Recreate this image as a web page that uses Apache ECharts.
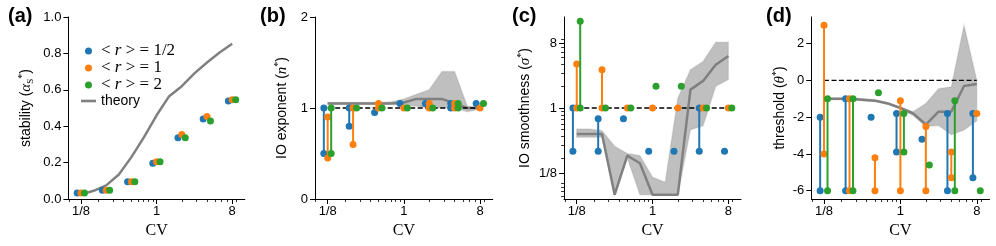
<!DOCTYPE html>
<html><head><meta charset="utf-8">
<script src="https://cdn.jsdelivr.net/npm/echarts@6/dist/echarts.min.js"></script>
<style>html,body{margin:0;padding:0;background:#fff}#c{width:996px;height:246px}</style>
</head><body><div id="c"></div>
<script>
// ---------- data ----------
const CV = [0.125, 0.25, 0.5, 1, 2, 4, 8];
const GROUPS = ['<r>=1/2', '<r>=1', '<r>=2'];
const X_TICK_CV = [0.125, 1, 8];
const X_TICK_LABELS = ['1/8', '1', '8'];
const MINOR_TICKS = [0.06,0.07,0.08,0.09,0.2,0.3,0.4,0.5,0.6,0.7,0.8,0.9,2,3,4,5,6,7,8,9];

// (a) stability
const STAB_HALF = [0.033, 0.048, 0.095, 0.196, 0.337, 0.439, 0.539];
const STAB_ONE  = [0.033, 0.048, 0.095, 0.204, 0.354, 0.453, 0.546];
const STAB_TWO  = [0.033, 0.048, 0.095, 0.204, 0.337, 0.429, 0.546];
const THEORY_CV = [0.125, 0.177, 0.25, 0.354, 0.5, 0.707, 1, 1.414, 2, 2.828, 4, 5.657, 8];
const STAB_THEORY = [0.025, 0.045, 0.075, 0.135, 0.23, 0.34, 0.46, 0.565, 0.62, 0.69, 0.75, 0.805, 0.853];

// (b) IO exponent: [low, high] per CV
const N_HALF = [[0.5,1.0],[0.8,1.0],[0.95,0.95],[1.05,1.05],[1.05,1.05],[1.0,1.05],[1.05,1.05]];
const N_ONE  = [[0.45,0.9],[0.6,1.0],[1.0,1.05],[1.0,1.0],[1.0,1.05],[1.0,1.05],[1.0,1.0]];
const N_TWO  = [[0.5,1.0],[1.0,1.0],[1.0,1.0],[1.0,1.0],[1.0,1.0],[1.0,1.05],[1.05,1.05]];
const N_THEORY = [1.05,1.05,1.05,1.05,1.05,1.05,1.06,1.1,1.1,1.1,1.05,1.0,1.0];
const N_UPPER  = [1.06,1.06,1.06,1.06,1.06,1.07,1.1,1.15,1.2,1.4,1.4,1.02,1.0];
const N_LOWER  = [1.04,1.04,1.04,1.04,1.04,1.04,1.03,1.02,1.0,1.0,1.0,0.96,0.99];

// (c) IO smoothness
const S_HALF = [[0.25,1],[0.25,0.71],[0.71,0.71],[0.25,0.25],[0.25,0.25],[0.25,1],[0.25,0.25]];
const S_ONE  = [[1,4.1],[1,3.4],[1,1],[1,1],[1,1],[1,1],[1,1]];
const S_TWO  = [[1,16],[1,1],[1,1],[2,2],[2,2],[1,1],[1,1]];
const S_THEORY = [0.435,0.435,0.435,0.0625,0.218,0.171,0.0625,0.0625,0.0625,1.8,2.38,4.0,5.28];
const S_UPPER  = [0.51,0.51,0.483,0.293,0.233,0.218,0.109,0.093,1.37,3.41,4.44,8.17,8.17];
const S_LOWER  = [0.392,0.392,0.392,0.0625,0.203,0.0625,0.0625,0.0625,0.0625,0.5,0.566,2.0,2.48];
const C_TICK_VALUES = [0.125, 1, 8];
const C_TICK_LABELS = ['1/8', '1', '8'];

// (d) threshold
const T_HALF = [[-6,-2],[-6,-1],[-2,-2],[-3.9,-1.8],[-3.2,-3.2],[-6,-1.8],[-5.3,-1.8]];
const T_ONE  = [[-4,3],[-6,-1],[-6,-4.2],[-6,-1.1],[-6,-2.5],[-5.3,-3.9],[-1.8,-1.8]];
const T_TWO  = [[-6,-1],[-6,-1],[-0.67,-0.67],[-3.9,-1.8],[-4.6,-4.6],[-6,-1.1],[-6,-6]];
const T_THEORY = [-1.0,-1.0,-1.0,-1.05,-1.1,-1.25,-1.5,-1.8,-2.4,-1.7,-1.7,-0.3,-0.2];
const T_UPPER  = [-0.95,-0.95,-0.95,-1.0,-1.05,-1.2,-1.45,-1.7,-1.25,-0.45,-0.35,3.0,0.0];
const T_LOWER  = [-1.05,-1.05,-1.05,-1.1,-1.15,-1.3,-1.55,-1.9,-2.5,-2.45,-2.95,-2.7,-2.2];
const D_TICKS = [-6, -4, -2, 0, 2];

// ---------- styling / build ----------
const COLORS = ['#1f77b4', '#ff7f0e', '#2ca02c'];
const JIT = [0.9, 1, 1.1];
const SANS = 'Liberation Sans';
const SERIF = 'Liberation Serif';
const L2 = Math.log2;
const ID = v => v;

const GRIDS = [
  {left: 68.4, top: 17, width: 176.4, height: 182},
  {left: 315, top: 17, width: 177.7, height: 182},
  {left: 564.1, top: 17, width: 176.9, height: 182},
  {left: 811.3, top: 17, width: 178.2, height: 182}
];

const tickStyle = {color: '#000', fontSize: 13, fontFamily: SANS};
const axLine = {show: true, onZero: false, lineStyle: {color: '#000', width: 1}};

const xAxes = [];
GRIDS.forEach((g, i) => {
  const xv = X_TICK_CV.map(L2);
  xAxes.push({
    gridIndex: i, type: 'value', position: 'bottom', min: -3.5, max: 3.5,
    axisLine: axLine,
    axisTick: {show: true, length: 5, customValues: xv, lineStyle: {color: '#000', width: 1}},
    axisLabel: Object.assign({customValues: xv, margin: 6,
      formatter: v => { const k = xv.findIndex(t => Math.abs(t - v) < 1e-6); return k >= 0 ? X_TICK_LABELS[k] : ''; }}, tickStyle),
    splitLine: {show: false},
    name: 'CV', nameLocation: 'middle', nameGap: 22,
    nameTextStyle: {fontFamily: SERIF, fontSize: 16, color: '#000'}
  });
  xAxes.push({
    gridIndex: i, type: 'value', position: 'bottom', min: -3.5, max: 3.5,
    axisLine: {show: false, onZero: false},
    axisTick: {show: true, length: 3, customValues: MINOR_TICKS.map(L2).filter(v => v > -3.5 && v < 3.5),
      lineStyle: {color: '#000', width: 0.8}},
    axisLabel: {show: false}, splitLine: {show: false}
  });
});

const richName = {
  n: {fontFamily: SANS, fontSize: 14, color: '#000'},
  m: {fontFamily: SERIF, fontStyle: 'italic', fontSize: 15, color: '#000'},
  sup: {fontFamily: SERIF, fontSize: 10, color: '#000', verticalAlign: 'top', lineHeight: 18},
  sub: {fontFamily: SERIF, fontSize: 9, color: '#000', verticalAlign: 'bottom', lineHeight: 18}
};
function yName(txt, gap) {
  return {name: txt, nameLocation: 'middle', nameGap: gap, nameTextStyle: {rich: richName, color: '#000'}};
}
const yAxes = [
  Object.assign({gridIndex: 0, type: 'value', position: 'left', min: 0, max: 1, interval: 0.2,
    axisLine: axLine, axisTick: {show: true, length: 5, lineStyle: {color: '#000'}},
    axisLabel: Object.assign({margin: 7, formatter: v => v.toFixed(1)}, tickStyle), splitLine: {show: false}},
    yName('{n|stability (}{m|α}{sub|S}{sup|*}{n|)}', 33)),
  Object.assign({gridIndex: 1, type: 'value', position: 'left', min: 0, max: 2, interval: 1,
    axisLine: axLine, axisTick: {show: true, length: 5, lineStyle: {color: '#000'}},
    axisLabel: Object.assign({margin: 7}, tickStyle), splitLine: {show: false}},
    yName('{n|IO exponent (}{m|n}{sup|*}{n|)}', 24)),
  Object.assign({gridIndex: 2, type: 'value', position: 'left', min: -4.2, max: 4.2,
    axisLine: axLine,
    axisTick: {show: true, length: 5, customValues: C_TICK_VALUES.map(L2), lineStyle: {color: '#000'}},
    axisLabel: Object.assign({margin: 7, customValues: C_TICK_VALUES.map(L2),
      formatter: v => { const k = C_TICK_VALUES.findIndex(t => Math.abs(L2(t) - v) < 1e-6); return k >= 0 ? C_TICK_LABELS[k] : ''; }}, tickStyle),
    splitLine: {show: false}},
    yName('{n|IO smoothness (}{m|σ}{sup|*}{n|)}', 30)),
  Object.assign({gridIndex: 3, type: 'value', position: 'left', min: -6.45, max: 3.45,
    axisLine: axLine,
    axisTick: {show: true, length: 5, customValues: D_TICKS, lineStyle: {color: '#000'}},
    axisLabel: Object.assign({margin: 7, customValues: D_TICKS, formatter: v => String(v)}, tickStyle),
    splitLine: {show: false}},
    yName('{n|threshold (}{m|θ}{sup|*}{n|)}', 22)),
  {gridIndex: 2, type: 'value', position: 'left', min: -4.2, max: 4.2,
    axisLine: {show: false, onZero: false},
    axisTick: {show: true, length: 3, customValues: MINOR_TICKS.map(L2).filter(v => v > -4.2 && v < 4.2),
      lineStyle: {color: '#000', width: 0.8}},
    axisLabel: {show: false}, splitLine: {show: false}}
];

function stemRender(params, api) {
  const x = api.value(0), lo = api.value(1), hi = api.value(2);
  const p1 = api.coord([x, lo]), p2 = api.coord([x, hi]);
  const color = api.visual('color');
  const ch = [];
  if (Math.abs(p1[1] - p2[1]) > 0.5) {
    ch.push({type: 'line', shape: {x1: p1[0], y1: p1[1], x2: p2[0], y2: p2[1]}, style: {stroke: color, lineWidth: 2}});
    ch.push({type: 'circle', shape: {cx: p2[0], cy: p2[1], r: 3.5}, style: {fill: color}});
  }
  ch.push({type: 'circle', shape: {cx: p1[0], cy: p1[1], r: 3.5}, style: {fill: color}});
  return {type: 'group', children: ch};
}
function stemSeries(pi, yi, ranges, g, ty) {
  return {type: 'custom', xAxisIndex: 2 * pi, yAxisIndex: yi, z: 4, silent: true,
    itemStyle: {color: COLORS[g]}, encode: {x: 0, y: [1, 2]},
    data: CV.map((c, k) => [L2(c * JIT[g]), ty(ranges[k][0]), ty(ranges[k][1])]),
    renderItem: stemRender};
}
function bandSeries(pi, yi, lo, hi, ty) {
  const pts = THEORY_CV.map((c, k) => [L2(c), ty(lo[k]), ty(hi[k])]);
  return {type: 'custom', xAxisIndex: 2 * pi, yAxisIndex: yi, z: 1, silent: true,
    encode: {x: 0, y: [1, 2]}, data: pts,
    renderItem: (params, api) => {
      if (params.dataIndex !== 0) return null;
      const up = pts.map(p => api.coord([p[0], p[2]]));
      const dn = pts.map(p => api.coord([p[0], p[1]])).reverse();
      return {type: 'polygon', shape: {points: up.concat(dn)},
        style: {fill: 'rgba(128,128,128,0.5)', stroke: 'rgba(128,128,128,0.2)', lineWidth: 1.5}};
    }};
}
function theoryLine(pi, yi, vals, ty, name) {
  return {type: 'line', name: name, xAxisIndex: 2 * pi, yAxisIndex: yi, z: 2, silent: true,
    symbol: 'none', showSymbol: false, color: '#808080',
    lineStyle: {color: '#808080', width: 2.5},
    data: THEORY_CV.map((c, k) => [L2(c), ty(vals[k])])};
}
function refLine(pi, yi, v, ty) {
  return {type: 'line', xAxisIndex: 2 * pi, yAxisIndex: yi, z: 3, silent: true,
    symbol: 'none', lineStyle: {color: '#000', width: 1.3, type: [5, 2.5]},
    data: [[L2(CV[0]), ty(v)], [L2(CV[CV.length - 1]), ty(v)]]};
}

const series = [];
// (a)
[STAB_HALF, STAB_ONE, STAB_TWO].forEach((arr, g) => {
  series.push({type: 'scatter', name: GROUPS[g], xAxisIndex: 0, yAxisIndex: 0, z: 4, symbolSize: 7,
    itemStyle: {color: COLORS[g], opacity: 1},
    data: CV.map((c, k) => [L2(c * JIT[g]), arr[k]])});
});
series.push(theoryLine(0, 0, STAB_THEORY, ID, 'theory'));
// (b)
series.push(bandSeries(1, 1, N_LOWER, N_UPPER, ID));
series.push(theoryLine(1, 1, N_THEORY, ID));
series.push(refLine(1, 1, 1, ID));
[N_HALF, N_ONE, N_TWO].forEach((r, g) => series.push(stemSeries(1, 1, r, g, ID)));
// (c)
series.push(bandSeries(2, 2, S_LOWER, S_UPPER, L2));
series.push(theoryLine(2, 2, S_THEORY, L2));
series.push(refLine(2, 2, 1, L2));
[S_HALF, S_ONE, S_TWO].forEach((r, g) => series.push(stemSeries(2, 2, r, g, L2)));
// (d)
series.push(bandSeries(3, 3, T_LOWER, T_UPPER, ID));
series.push(theoryLine(3, 3, T_THEORY, ID));
series.push(refLine(3, 3, 0, ID));
[T_HALF, T_ONE, T_TWO].forEach((r, g) => series.push(stemSeries(3, 3, r, g, ID)));

const legendFmt = name => {
  if (name === 'theory') return '{s|theory}';
  const v = name.split('=')[1];
  return '{n|< }{i|r}{n| > = ' + v + '}';
};

const chart = echarts.init(document.getElementById('c'), null, {renderer: 'canvas'});
chart.setOption({
  animation: false,
  backgroundColor: '#fff',
  grid: GRIDS,
  xAxis: xAxes,
  yAxis: yAxes,
  series: series,
  legend: {
    data: GROUPS.map(n => ({name: n, icon: 'circle'}))
      .concat([{name: 'theory', icon: 'path://M0,0 L15,0 L15,2.6 L0,2.6 Z'}]),
    orient: 'vertical', left: 81, top: 42.5, padding: 0,
    itemWidth: 15, itemHeight: 7, itemGap: 0, itemTextGap: 11, selectedMode: false,
    formatter: legendFmt,
    textStyle: {color: '#000', lineHeight: 15, rich: {
      n: {fontFamily: SERIF, fontSize: 17, color: '#000', lineHeight: 15},
      i: {fontFamily: SERIF, fontStyle: 'italic', fontSize: 17, color: '#000', lineHeight: 15},
      s: {fontFamily: SANS, fontSize: 14, color: '#000', lineHeight: 15}
    }}
  },
  graphic: [
    {type: 'text', left: 8, top: 6, style: {text: '(a)', font: 'bold 20px "Liberation Sans"', fill: '#000'}},
    {type: 'text', left: 260, top: 6, style: {text: '(b)', font: 'bold 20px "Liberation Sans"', fill: '#000'}},
    {type: 'text', left: 512, top: 6, style: {text: '(c)', font: 'bold 20px "Liberation Sans"', fill: '#000'}},
    {type: 'text', left: 766, top: 6, style: {text: '(d)', font: 'bold 20px "Liberation Sans"', fill: '#000'}}
  ]
});
</script>
</body></html>
